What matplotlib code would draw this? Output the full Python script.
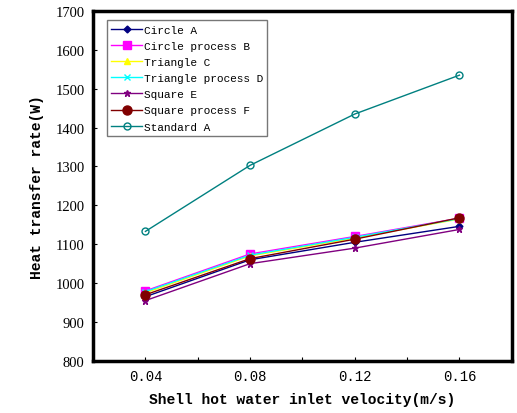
import numpy as np
import matplotlib
matplotlib.use("Agg")
import matplotlib.pyplot as plt

# Data.
velocity = [0.04, 0.08, 0.12, 0.16]
circleA = [965, 1060, 1105, 1146]
circleProcessB = [980, 1075, 1120, 1167]
triangleC = [975, 1070, 1116, 1165]
triangleProcessD = [978, 1072, 1118, 1166]
squareE = [955, 1050, 1090, 1138]
squareProcessF = [970, 1063, 1113, 1168]
standardA = [1133, 1303, 1435, 1535]

series = [
    ("Circle A", circleA, "#000080", "D", 3.5, "#000080"),
    ("Circle process B", circleProcessB, "#FF00FF", "s", 6, "#FF00FF"),
    ("Triangle C", triangleC, "#FFFF00", "^", 5, "#FFFF00"),
    ("Triangle process D", triangleProcessD, "#00FFFF", "x", 4, "#00FFFF"),
    ("Square E", squareE, "#800080", "*", 5, "#800080"),
    ("Square process F", squareProcessF, "#800000", "o", 6.5, "#800000"),
    ("Standard A", standardA, "#008080", "o", 5, "none"),
]

fig = plt.figure(figsize=(5.17, 4.14), dpi=100)
ax = fig.add_axes([0.18, 0.126, 0.81, 0.845])

for name, values, color, marker, size, face in series:
    ax.plot(velocity, values, color=color, lw=1, marker=marker, markersize=size,
            markerfacecolor=face, markeredgecolor=color, markeredgewidth=1, label=name)

ax.set_xlim(0.02, 0.18)
ax.set_ylim(800, 1700)
ax.set_xticks(np.arange(0.02, 0.181, 0.02))
ax.set_xticklabels(["", "0.04", "", "0.08", "", "0.12", "", "0.16", ""],
                   family="Liberation Mono", fontsize=10)
ax.set_yticks(np.arange(800, 1701, 100))
for lab in ax.get_yticklabels():
    lab.set_family("Liberation Serif")
    lab.set_fontsize(10.5)
ax.tick_params(direction="in", length=3, width=0.8, pad=6)
for s in ax.spines.values():
    s.set_linewidth(2.5)

ax.set_xlabel("Shell hot water inlet velocity(m/s)", family="Liberation Mono",
              fontweight="bold", fontsize=10.5, labelpad=6)
ax.set_ylabel("Heat transfer rate(W)", family="Liberation Mono",
              fontweight="bold", fontsize=10.5, labelpad=8)

leg = ax.legend(loc="upper left", bbox_to_anchor=(0.033, 0.973), fancybox=False,
                prop={"family": "Liberation Mono", "size": 8}, handlelength=2.8,
                labelspacing=0.55, borderpad=0.4, handletextpad=0.1, borderaxespad=0)
leg.get_frame().set_edgecolor("#555555")
leg.get_frame().set_linewidth(1)

plt.savefig("out.png", dpi=100)
